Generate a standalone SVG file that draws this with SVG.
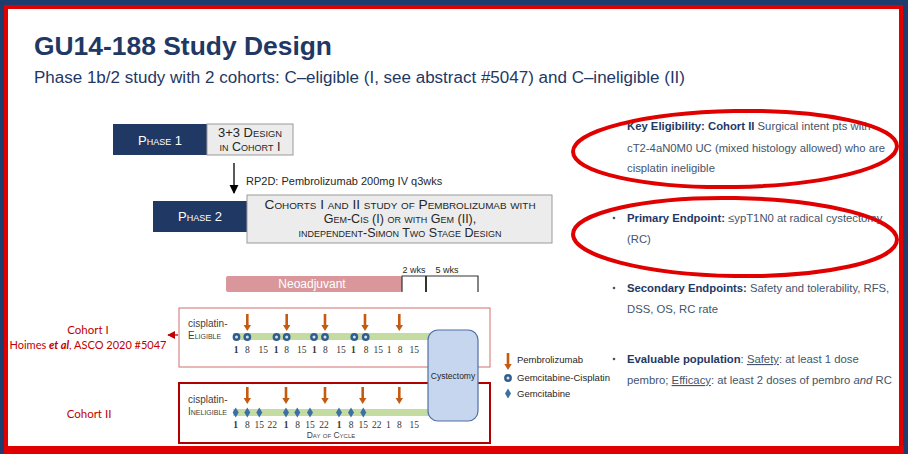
<svg xmlns="http://www.w3.org/2000/svg" xmlns:xlink="http://www.w3.org/1999/xlink" width="908" height="454" viewBox="0 0 908 454">
<style>
text{font-family:"Liberation Sans",Arial,sans-serif}
.title{font-size:26px;font-weight:bold;fill:#1F3864}
.sub{font-size:16px;fill:#1F3864}
.sc{font-variant:small-caps;font-size:12.5px;fill:#262626}
.scw{font-variant:small-caps;font-size:13px;fill:#fff}
.navy{fill:#1F3864}
.gray{fill:#ECECEC;stroke:#9A9A9A;stroke-width:1}
.num{font-family:"Liberation Serif","DejaVu Serif",serif;font-size:9.5px;fill:#333;text-anchor:middle}
.numb{font-weight:bold}
.lab{font-size:10px;fill:#404040}
.labsc{font-size:10px;fill:#404040;font-variant:small-caps}
.coh{font-family:Lato,"Open Sans",sans-serif;font-size:11.5px;fill:#C00000;text-anchor:middle}
.leg{font-size:9.5px;fill:#262626}
.bul{font-size:11.3px;fill:#44546A}
.bold{font-weight:bold;fill:#1F3864}
.ell{fill:none;stroke:#E00000;stroke-width:4}
.bar{fill:#C4DCA2}
.dot{fill:#44546A}
</style>
<defs>
<path id="pem" d="M-1.3,0 h2.6 v11 h2.4 l-3.7,6 l-3.7,-6 h2.4 z" fill="#C55A11"/>
<g id="gc"><circle r="3.9" fill="#2F5E8E"/><circle r="1.5" fill="#D5E2EF"/></g>
<path id="gm" d="M0,-5 L3,0 L0,5 L-3,0 z" fill="#3C6FA6"/>
<marker id="ah" viewBox="0 0 10 10" refX="9" refY="5" markerWidth="7" markerHeight="7" orient="auto"><path d="M0,0 L10,5 L0,10 z" fill="#000"/></marker>
<marker id="ahr" viewBox="0 0 10 10" refX="9" refY="5" markerWidth="6" markerHeight="6" orient="auto"><path d="M0,0 L10,5 L0,10 z" fill="#C00000"/></marker>
</defs>
<rect x="0" y="0" width="908" height="454" fill="#1F3C6E"/>
<rect x="6" y="7" width="895" height="441" fill="#fff" stroke="#E00000" stroke-width="4"/>
<rect x="4" y="446" width="900" height="8" fill="#E00000"/>

<text class="title" x="34" y="55" textLength="298" lengthAdjust="spacingAndGlyphs">GU14-188 Study Design</text>
<text class="sub" x="34" y="83" textLength="651" lengthAdjust="spacingAndGlyphs">Phase 1b/2 study with 2 cohorts: C–eligible (I, see abstract #5047) and C–ineligible (II)</text>

<g id="phase1">
<rect class="navy" x="113" y="124" width="94" height="31"/>
<text class="scw" x="160" y="145" text-anchor="middle">Phase 1</text>
<rect class="gray" x="207" y="124" width="86" height="31"/>
<text class="sc" x="250" y="137" text-anchor="middle" textLength="64" lengthAdjust="spacingAndGlyphs">3+3 Design</text>
<text class="sc" x="250" y="151" text-anchor="middle">in Cohort I</text>
</g>

<g id="phase2">
<rect class="navy" x="153" y="201" width="94" height="31"/>
<text class="scw" x="200" y="221" text-anchor="middle">Phase 2</text>
<rect class="gray" x="247" y="195" width="305" height="48"/>
<text class="sc" x="400" y="209" text-anchor="middle" textLength="271" lengthAdjust="spacingAndGlyphs">Cohorts I and II study of Pembrolizumab with</text>
<text class="sc" x="400" y="223" text-anchor="middle">Gem-Cis (I) or with Gem (II),</text>
<text class="sc" x="400" y="237" text-anchor="middle">independent-Simon Two Stage Design</text>
</g>

<g id="connectors">
<line x1="234" y1="163" x2="234" y2="193" stroke="#000" stroke-width="1.3" marker-end="url(#ah)"/>
<line x1="178" y1="335" x2="168" y2="335" stroke="#C00000" stroke-width="1.3" marker-end="url(#ahr)"/>
</g>
<text x="246" y="185" font-size="11" fill="#262626">RP2D: Pembrolizumab 200mg IV q3wks</text>

<g id="timeline">
<rect x="226" y="276" width="176" height="16" rx="2" fill="#D9979B"/>
<text x="312" y="288" font-size="12" fill="#fff" text-anchor="middle">Neoadjuvant</text>
<path d="M402,292 V276 H478 V292" fill="none" stroke="#333" stroke-width="1.2"/>
<line x1="426" y1="276" x2="426" y2="292" stroke="#333" stroke-width="2"/>
<text x="414" y="273" font-size="9" fill="#262626" text-anchor="middle">2 wks</text>
<text x="447" y="273" font-size="9" fill="#262626" text-anchor="middle">5 wks</text>
</g>

<g id="cohort1">
<rect x="179" y="308" width="311" height="59" fill="none" stroke="#D07070" stroke-width="1"/>
<text class="lab" x="188" y="327">cisplatin-</text>
<text class="labsc" x="188" y="339">Eligible</text>
<rect class="bar" x="233" y="333" width="198" height="7"/>
<use xlink:href="#gc" x="236.5" y="337"/><use xlink:href="#gc" x="247.3" y="337"/>
<use xlink:href="#gc" x="276.5" y="337"/><use xlink:href="#gc" x="286.7" y="337"/>
<use xlink:href="#gc" x="314" y="337"/><use xlink:href="#gc" x="325" y="337"/>
<use xlink:href="#gc" x="354.3" y="337"/><use xlink:href="#gc" x="365.7" y="337"/>
<use xlink:href="#pem" x="247.3" y="314"/><use xlink:href="#pem" x="286.7" y="314"/>
<use xlink:href="#pem" x="325" y="314"/><use xlink:href="#pem" x="365" y="314"/>
<use xlink:href="#pem" x="399.3" y="314"/>
<text class="num numb" x="236" y="353">1</text><text class="num" x="247.3" y="353">8</text><text class="num" x="263.3" y="353">15</text>
<text class="num numb" x="276" y="353">1</text><text class="num" x="286.7" y="353">8</text><text class="num" x="301.7" y="353">15</text>
<text class="num numb" x="314.3" y="353">1</text><text class="num" x="325.3" y="353">8</text><text class="num" x="341" y="353">15</text>
<text class="num numb" x="353.3" y="353">1</text><text class="num" x="366" y="353">8</text><text class="num" x="378.3" y="353">15</text>
<text class="num" x="389" y="353">1</text><text class="num" x="400" y="353">8</text><text class="num" x="414.3" y="353">15</text>
</g>

<g id="cohort2">
<rect x="179" y="383" width="311" height="60" fill="none" stroke="#B00000" stroke-width="2"/>
<text class="lab" x="188" y="403">cisplatin-</text>
<text class="labsc" x="188" y="415">Ineligible</text>
<rect class="bar" x="233" y="409" width="198" height="7"/>
<use xlink:href="#gm" x="235.7" y="412.5"/><use xlink:href="#gm" x="247.3" y="412.5"/><use xlink:href="#gm" x="259.3" y="412.5"/>
<use xlink:href="#gm" x="286" y="412.5"/><use xlink:href="#gm" x="297.3" y="412.5"/><use xlink:href="#gm" x="310" y="412.5"/>
<use xlink:href="#gm" x="339" y="412.5"/><use xlink:href="#gm" x="351" y="412.5"/><use xlink:href="#gm" x="363.3" y="412.5"/>
<use xlink:href="#pem" x="247.3" y="387"/><use xlink:href="#pem" x="286" y="387"/>
<use xlink:href="#pem" x="325" y="387"/><use xlink:href="#pem" x="362.7" y="387"/>
<use xlink:href="#pem" x="399.3" y="387"/>
<text class="num numb" x="235.7" y="428">1</text><text class="num" x="247.3" y="428">8</text><text class="num" x="259.3" y="428">15</text><text class="num" x="272.3" y="428">22</text>
<text class="num numb" x="286" y="428">1</text><text class="num" x="297.7" y="428">8</text><text class="num" x="310" y="428">15</text><text class="num" x="324" y="428">22</text>
<text class="num numb" x="339" y="428">1</text><text class="num" x="351" y="428">8</text><text class="num" x="363.3" y="428">15</text><text class="num" x="376.7" y="428">22</text>
<text class="num" x="388.3" y="428">1</text><text class="num" x="399.3" y="428">8</text><text class="num" x="414.3" y="428">15</text>
<text x="331" y="438" font-size="8.5" fill="#404040" text-anchor="middle" font-variant="small-caps">Day of Cycle</text>
</g>

<g id="cystectomy">
<rect x="428" y="330" width="50" height="91" rx="10" fill="#C6D6EE" stroke="#4F6FA5" stroke-width="1.2"/>
<text x="453" y="379" font-size="8.5" fill="#262626" text-anchor="middle">Cystectomy</text>
</g>

<g id="labels">
<text class="coh" x="88" y="334">Cohort I</text>
<text class="coh" x="88" y="349" textLength="157" lengthAdjust="spacingAndGlyphs">Hoimes <tspan font-weight="bold" font-style="italic">et al</tspan>, ASCO 2020 #5047</text>
<text class="coh" x="89" y="418">Cohort II</text>
</g>

<g id="legend">
<use xlink:href="#pem" x="508" y="353"/>
<text class="leg" x="517" y="363">Pembrolizumab</text>
<use xlink:href="#gc" x="508" y="378"/>
<text class="leg" x="517" y="381">Gemcitabine-Cisplatin</text>
<use xlink:href="#gm" x="508" y="393.5"/>
<text class="leg" x="517" y="397">Gemcitabine</text>
</g>

<g id="bullets">
<circle class="dot" cx="614" cy="126" r="1.3"/>
<text class="bul" x="627" y="130"><tspan class="bold">Key Eligibility: Cohort II</tspan> Surgical intent pts with</text>
<text class="bul" x="627" y="152">cT2-4aN0M0 UC (mixed histology allowed) who are</text>
<text class="bul" x="627" y="172">cisplatin ineligible</text>
<circle class="dot" cx="614" cy="218" r="1.3"/>
<text class="bul" x="627" y="222"><tspan class="bold">Primary Endpoint:</tspan> ≤ypT1N0 at radical cystectomy</text>
<text class="bul" x="627" y="243">(RC)</text>
<circle class="dot" cx="614" cy="288" r="1.3"/>
<text class="bul" x="627" y="292"><tspan class="bold">Secondary Endpoints:</tspan> Safety and tolerability, RFS,</text>
<text class="bul" x="627" y="313">DSS, OS, RC rate</text>
<circle class="dot" cx="614" cy="359" r="1.3"/>
<text class="bul" x="627" y="363"><tspan class="bold">Evaluable population</tspan>: <tspan text-decoration="underline">Safety</tspan>: at least 1 dose</text>
<text class="bul" x="627" y="384">pembro; <tspan text-decoration="underline">Efficacy</tspan>: at least 2 doses of pembro <tspan font-style="italic">and</tspan> RC</text>
</g>

<g id="highlights">
<ellipse class="ell" cx="735" cy="149" rx="162" ry="38" transform="rotate(-1 735 149)"/>
<ellipse class="ell" cx="735" cy="237" rx="162" ry="39" transform="rotate(1 735 237)"/>
</g>
</svg>
